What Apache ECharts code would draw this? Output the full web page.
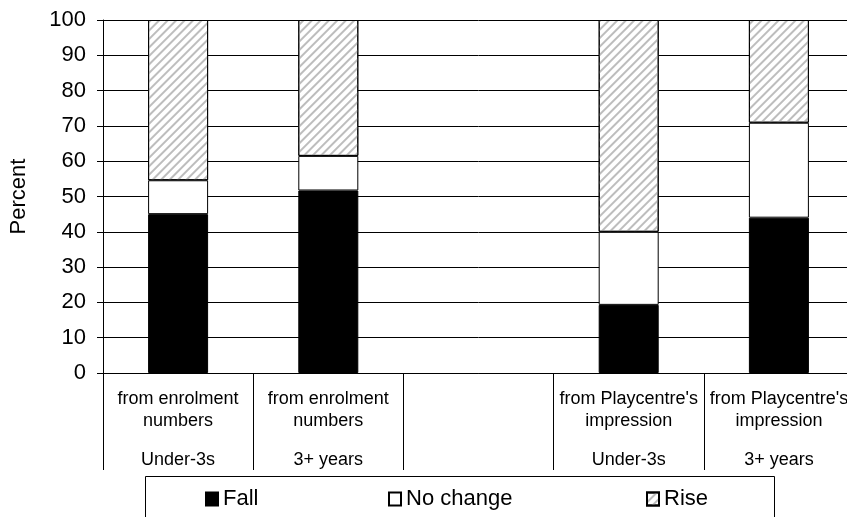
<!DOCTYPE html>
<html>
<head>
<meta charset="utf-8">
<script src="https://cdn.jsdelivr.net/npm/echarts@6/dist/echarts.min.js"></script>
<style>html,body{margin:0;padding:0;background:#fff;overflow:hidden;width:847px;height:517px}#c{width:870px;height:517px}</style>
</head>
<body>
<div id="c"></div>
<script>
const categories = ['from enrolment\nnumbers', 'from enrolment\nnumbers', '', "from Playcentre's\nimpression", "from Playcentre's\nimpression"];
const groups = ['Under-3s', '3+ years', '', 'Under-3s', '3+ years'];
const fall = [45.0, 51.7, null, 19.3, 44.0];
const noChange = [9.6, 9.8, null, 20.7, 26.9];
const rise = [45.4, 38.5, null, 60.0, 29.1];
const yTicks = [0, 10, 20, 30, 40, 50, 60, 70, 80, 90, 100];

const FONT = '"Liberation Sans", Arial, sans-serif';
const chart = echarts.init(document.getElementById('c'));
const border = {borderColor: '#000', borderWidth: 1};
const legendBase = {top: 488, itemWidth: 12, itemHeight: 13, icon: 'rect', padding: 0,
  textStyle: {fontFamily: FONT, fontSize: 22, color: '#000'}};
chart.setOption({
  animation: false,
  backgroundColor: '#fff',
  grid: {left: 103, top: 20, width: 751, height: 353, containLabel: false},
  xAxis: [{
    type: 'category', data: categories, position: 'bottom',
    axisLine: {show: true, lineStyle: {color: '#000', width: 1}},
    axisTick: {show: true, interval: 0, length: 97, lineStyle: {color: '#000'}},
    axisLabel: {interval: 0, margin: 15, color: '#000', fontFamily: FONT, fontSize: 18, lineHeight: 22, align: 'center'},
    splitLine: {show: false}
  }, {
    type: 'category', data: groups, position: 'bottom', gridIndex: 0,
    axisLine: {show: false}, axisTick: {show: false},
    axisLabel: {interval: 0, margin: 76, color: '#000', fontFamily: FONT, fontSize: 18, lineHeight: 22}
  }],
  yAxis: {
    type: 'value', min: yTicks[0], max: yTicks[yTicks.length - 1], interval: 10,
    name: 'Percent', nameLocation: 'middle', nameRotate: 90, nameGap: 73,
    nameTextStyle: {color: '#000', fontFamily: FONT, fontSize: 22},
    axisLine: {show: true, lineStyle: {color: '#000', width: 1}},
    axisTick: {show: true, length: 6, lineStyle: {color: '#000'}},
    axisLabel: {margin: 17, color: '#000', fontFamily: FONT, fontSize: 22},
    splitLine: {show: true, lineStyle: {color: '#000', width: 1}}
  },
  legend: [
    Object.assign({data: ['Fall'], left: 205}, legendBase),
    Object.assign({data: ['No change'], left: 388}, legendBase),
    Object.assign({data: ['Rise'], left: 646}, legendBase)
  ],
  graphic: [{
    type: 'rect', left: 143, top: 474, shape: {width: 629, height: 60},
    style: {fill: 'none', stroke: '#000', lineWidth: 1}, silent: true
  }],
  series: [
    {name: 'Fall', type: 'bar', stack: 's', data: fall, barWidth: 60, itemStyle: Object.assign({color: '#000'}, border)},
    {name: 'No change', type: 'bar', stack: 's', data: noChange, barWidth: 60, itemStyle: Object.assign({color: '#fff'}, border)},
    {name: 'Rise', type: 'bar', stack: 's', data: rise, barWidth: 60, itemStyle: Object.assign({color: '#fff', decal: {symbol: 'rect', symbolSize: 1, dashArrayX: [1, 0], dashArrayY: [2, 4], rotation: -Math.PI / 4, color: '#bdbdbd'}}, border)}
  ]
});
</script>
</body>
</html>
